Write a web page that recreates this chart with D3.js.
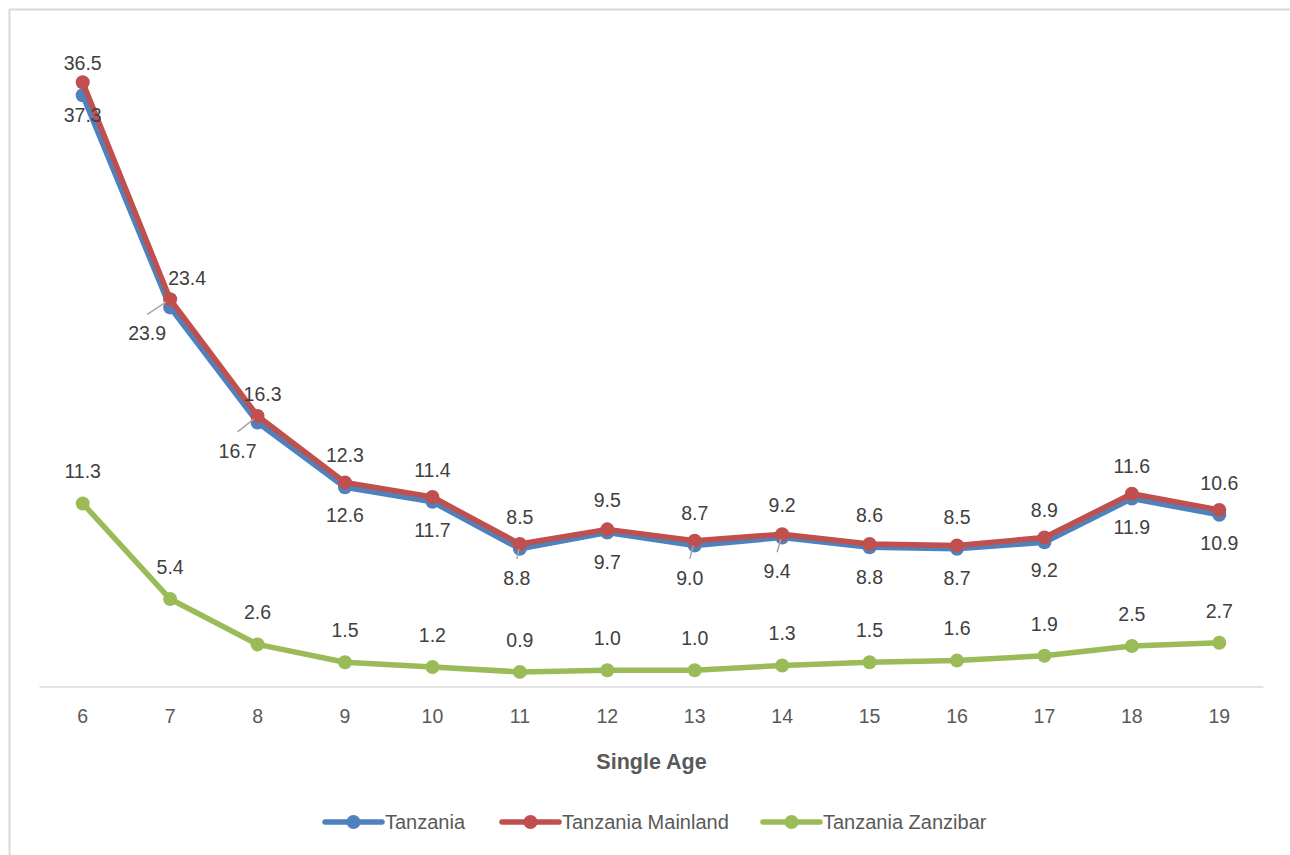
<!DOCTYPE html>
<html><head><meta charset="utf-8">
<script src="https://cdn.jsdelivr.net/npm/d3@7"></script>
<style>html,body{margin:0;padding:0;background:#fff;}svg{display:block;}</style>
</head><body>
<script>
const ages = ["6","7","8","9","10","11","12","13","14","15","16","17","18","19"];
const tanzania = [36.5,23.4,16.3,12.3,11.4,8.5,9.5,8.7,9.2,8.6,8.5,8.9,11.6,10.6];
const mainland = [37.3,23.9,16.7,12.6,11.7,8.8,9.7,9.0,9.4,8.8,8.7,9.2,11.9,10.9];
const zanzibar = [11.3,5.4,2.6,1.5,1.2,0.9,1.0,1.0,1.3,1.5,1.6,1.9,2.5,2.7];
const seriesNames = ["Tanzania","Tanzania Mainland","Tanzania Zanzibar"];
const xTitle = "Single Age";

// label nudges (style, not data): [seriesIndex, categoryIndex, dx, dy, leader]
const nudges = [
  [0,1,17,3,false],[0,2,5,4,false],
  [1,1,-23,1,true],[1,2,-20,2,true],[1,5,-3,1,true],[1,7,-5,4,true],[1,8,-5,4,true]
];

const W=1290,H=855;
const FONT="Liberation Sans, Arial, sans-serif";
const svg=d3.select("body").append("svg").attr("width",W).attr("height",H);
svg.append("rect").attr("x",9.5).attr("y",9.5).attr("width",W+20).attr("height",H+20)
  .attr("fill","#fff").attr("stroke","#d9d9d9").attr("stroke-width",2);

const x=d3.scaleBand().domain(ages).range([39,1263]);
const y=d3.scaleLinear().domain([0,40]).range([686.5,38.5]);
const cx=d=>x(d)+x.bandwidth()/2;

// axis
const ax=svg.append("g").attr("transform","translate(0,686.5)")
  .call(d3.axisBottom(x).tickSize(0).tickPadding(22));
ax.select(".domain").attr("stroke","#d9d9d9").attr("stroke-width",1.5);
ax.selectAll("text").attr("font-family",FONT)
  .attr("font-size",19.5).attr("fill","#595959").attr("dy","0.34em").attr("y",30);

svg.append("text").attr("x",(39+1263)/2+0.5).attr("y",762).attr("text-anchor","middle")
  .attr("dominant-baseline","central")
  .attr("font-family",FONT).attr("font-weight","bold")
  .attr("font-size",21.5).attr("fill","#595959").text(xTitle);

const colors=["#4f81bd","#c0504d","#9bbb59"];
const data=[tanzania,mainland,zanzibar];
const line=d3.line().x((d,i)=>cx(ages[i])).y(d=>y(d));

data.forEach((vals,s)=>{
  svg.append("path").datum(vals).attr("d",line).attr("fill","none")
    .attr("stroke",colors[s]).attr("stroke-width",5.5).attr("stroke-linejoin","round");
  svg.selectAll(null).data(vals).enter().append("circle")
    .attr("cx",(d,i)=>cx(ages[i])).attr("cy",d=>y(d)).attr("r",7).attr("fill",colors[s]);
});

// labels
const labG=svg.append("g").attr("font-family",FONT)
  .attr("font-size",19.5).attr("fill","#404040").attr("text-anchor","middle");
data.forEach((vals,s)=>{
  vals.forEach((v,i)=>{
    let lx=cx(ages[i]);
    let ly=y(v)+(s===1?33:-32);
    const n=nudges.find(a=>a[0]===s&&a[1]===i);
    if(n){
      lx+=n[2]; ly+=n[3];
      if(n[4]){
        const sx=lx, sy=ly-19, px=cx(ages[i]), py=y(v);
        const dx=px-sx, dy=py-sy, L=Math.hypot(dx,dy);
        svg.append("line").attr("x1",sx).attr("y1",sy)
          .attr("x2",px-dx/L*5).attr("y2",py-dy/L*5)
          .attr("stroke","#a6a6a6").attr("stroke-width",1.5);
      }
    }
    labG.append("text").attr("x",lx).attr("y",ly).attr("dy","0.35em").text(v.toFixed(1));
  });
});

// legend
const legX=[325,502,763];
const lg=svg.append("g");
seriesNames.forEach((nm,s)=>{
  const g=lg.append("g").attr("transform",`translate(${legX[s]},822)`);
  g.append("line").attr("x1",0).attr("x2",57).attr("y1",0).attr("y2",0)
    .attr("stroke",colors[s]).attr("stroke-width",5.5).attr("stroke-linecap","round");
  g.append("circle").attr("cx",28.5).attr("cy",0).attr("r",7).attr("fill",colors[s]);
  g.append("text").attr("x",60).attr("y",0).attr("dy","0.35em")
    .attr("font-family",FONT).attr("font-size",20)
    .attr("fill","#595959").text(nm);
});
</script>
</body></html>
